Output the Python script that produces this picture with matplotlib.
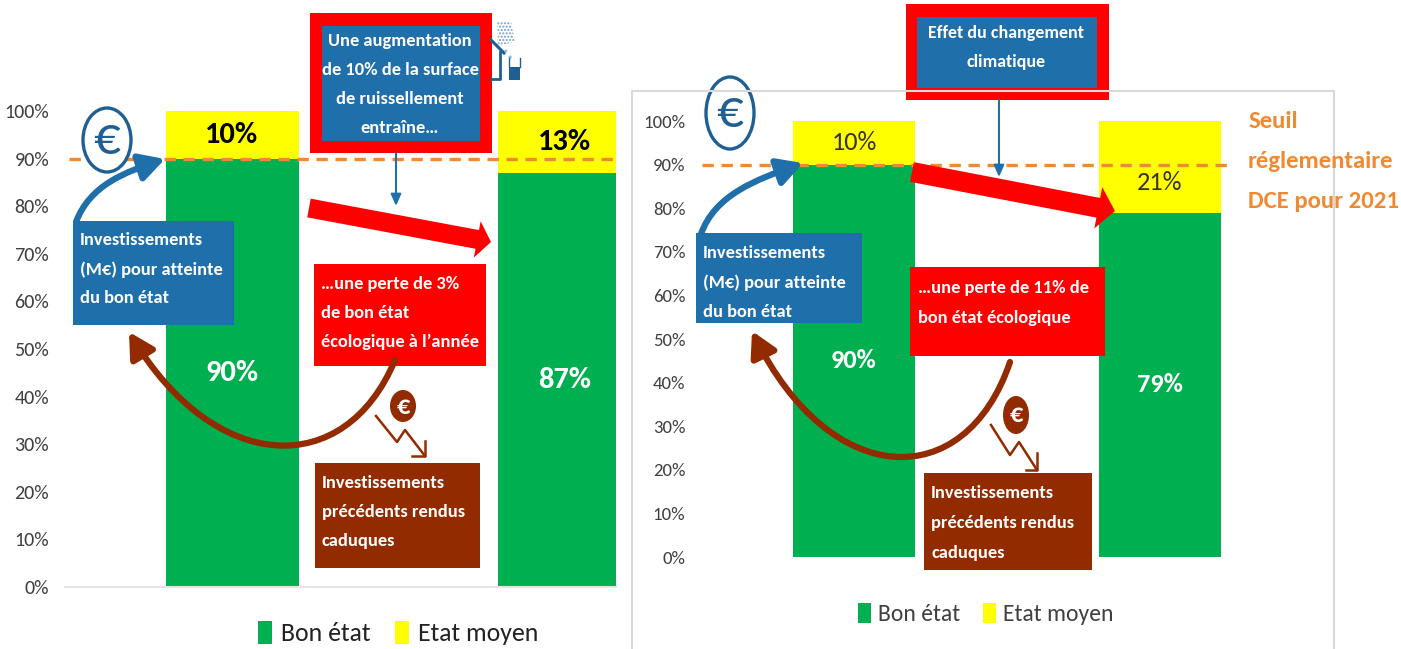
import matplotlib
matplotlib.use('Agg')
import matplotlib.pyplot as plt
from matplotlib.patches import Rectangle, Ellipse, FancyArrow, FancyArrowPatch, Polygon
from matplotlib.path import Path

plt.rcParams['font.family'] = ['Carlito', 'Liberation Sans', 'DejaVu Sans']

# --- data ---
y_ticks = [0, 10, 20, 30, 40, 50, 60, 70, 80, 90, 100]
threshold = 90
left_bon = [90, 87]
left_moyen = [10, 13]
right_bon = [90, 79]
right_moyen = [10, 21]

W, H = 1401, 649
GREEN = '#00b050'
YELLOW = '#ffff00'
ORANGE = '#f08a32'
BLUE = '#1f6fab'
DARKBLUE = '#1f5f94'
RED = '#ff0000'
BROWN = '#922b00'
GREY = '#404040'

fig = plt.figure(figsize=(W / 100, H / 100), dpi=100)


def make_axes(x0, x1, y_top, y_bot, c0, c1, bar_w):
    # axes placed in pixels, x limits worked out from the two bar centres
    ax = fig.add_axes([x0 / W, 1 - y_bot / H, (x1 - x0) / W, (y_bot - y_top) / H])
    unit = c1 - c0
    ax.set_xlim((x0 - c0) / unit, (x1 - c0) / unit)
    ax.set_ylim(0, 100)
    ax.patch.set_alpha(0)
    for s in ax.spines.values():
        s.set_visible(False)
    ax.set_xticks([])
    ax.set_yticks(y_ticks)
    ax.set_yticklabels([f'{v}%' for v in y_ticks])
    return ax, bar_w / unit


def draw_bars(ax, bar_w, bon, moyen, tcol, bold, fs, lab_shift=(0, 0), line_start=0.0):
    xs = range(len(bon))
    ax.bar(xs, bon, width=bar_w, color=GREEN, label='Bon état')
    ax.bar(xs, moyen, bottom=bon, width=bar_w, color=YELLOW, label='Etat moyen')
    for i in xs:
        ax.text(i, bon[i] / 2, f'{bon[i]}%', color='white', ha='center', va='center',
                fontsize=fs, fontweight='bold')
        ax.text(i, bon[i] + moyen[i] / 2 + lab_shift[i], f'{moyen[i]}%', color=tcol, ha='center',
                va='center', fontsize=fs, fontweight='bold' if bold else 'normal')
    ax.axhline(threshold, xmin=line_start, color=ORANGE, ls=(0, (3.4, 2.3)), lw=2.4, zorder=5)


# left chart
axL, wL = make_axes(65, 616, 111, 587, 232, 565, 133)
draw_bars(axL, wL, left_bon, left_moyen, 'black', True, 22, line_start=0.008)
axL.tick_params(axis='y', length=0, pad=11.5, labelsize=14.5, labelcolor=GREY)
axL.spines['bottom'].set_visible(True)
axL.spines['bottom'].set_color('#e4e4e4')
axL.spines['bottom'].set_linewidth(1.5)

# right chart
axR, wR = make_axes(702, 1230, 121, 557, 854, 1160, 122)
draw_bars(axR, wR, right_bon, right_moyen, '#333333', False, 19, lab_shift=(0, -3.7))
axR.tick_params(axis='y', length=0, pad=12, labelsize=13.5, labelcolor=GREY)

# overlay in pixel coordinates for the slide shapes
ov = fig.add_axes([0, 0, 1, 1], zorder=10)
ov.set_xlim(0, W)
ov.set_ylim(H, 0)
ov.axis('off')

axL.legend(bbox_to_anchor=(398, 633), bbox_transform=ov.transData, loc='center', ncol=2,
           frameon=False, fontsize=18.5, handlelength=0.55, handleheight=1.0, handletextpad=0.35,
           columnspacing=0.95, labelcolor='#222222')
axR.legend(bbox_to_anchor=(986, 614), bbox_transform=ov.transData, loc='center', ncol=2,
           frameon=False, fontsize=17, handlelength=0.55, handleheight=0.9, handletextpad=0.3,
           columnspacing=0.95, labelcolor=GREY)

# frame around the right chart
ov.plot([632, 632, 1334, 1334], [649, 91, 91, 649], color='#d9d9d9', lw=1.5)


def box(x0, x1, y0, y1, color):
    ov.add_patch(Rectangle((x0, y0), x1 - x0, y1 - y0, facecolor=color, edgecolor='none'))


def box_text(x, ys, lines, ha='left', fs=13.2):
    for y, line in zip(ys, lines):
        ov.text(x, y, line, color='white', fontsize=fs, fontweight='bold', ha=ha, va='center')


def curve_arrow(p0, p1, p2, p3, color, lw, head):
    path = Path([p0, p1, p2, p3], [Path.MOVETO, Path.CURVE4, Path.CURVE4, Path.CURVE4])
    ov.add_patch(FancyArrowPatch(path=path, arrowstyle=f'-|>,head_length={head},head_width={head * 0.55}',
                                 color=color, lw=lw, mutation_scale=1, shrinkA=0, shrinkB=0))


def euro_circle(cx, cy, rx, ry, fs):
    ov.add_patch(Ellipse((cx, cy), rx * 2, ry * 2, facecolor='white', edgecolor=DARKBLUE, lw=2.4))
    ov.text(cx, cy, '€', color=DARKBLUE, fontsize=fs, ha='center', va='center')


def euro_down(cx, cy, rx, ry, pts, heads):
    ov.add_patch(Ellipse((cx, cy), rx * 2, ry * 2, facecolor=BROWN, edgecolor='none'))
    ov.text(cx, cy, '€', color='white', fontsize=19, fontweight='bold', ha='center', va='center')
    ov.plot([p[0] for p in pts], [p[1] for p in pts], color=BROWN, lw=1.8)
    ov.plot([h[0] for h in heads], [h[1] for h in heads], color=BROWN, lw=1.8)


def thick_arrow(x0, y0, x1, y1, width, head_w, head_l):
    ov.add_patch(FancyArrow(x0, y0, x1 - x0, y1 - y0, width=width, head_width=head_w, head_length=head_l,
                            length_includes_head=True, color=RED, lw=0))


def thin_arrow(x, y0, y1):
    ov.annotate('', xy=(x, y1), xytext=(x, y0),
                arrowprops=dict(arrowstyle='-|>,head_length=0.5,head_width=0.22', color=BLUE, lw=1.5,
                                shrinkA=0, shrinkB=0, mutation_scale=14))


# --- left panel shapes ---
ov.add_patch(Polygon([(497, 21), (511, 21), (515, 42), (498, 46)], fill=False, hatch='.....',
                     edgecolor='#6f9fc8', lw=0))
ov.plot([491, 500, 504], [40, 49, 53], color=DARKBLUE, lw=2.2)
ov.plot([500, 500, 491], [52, 79, 79], color=DARKBLUE, lw=2)
ov.plot([505, 513], [50, 61], color='#8fbbdc', lw=2, ls=':')
box(509, 520, 67, 80, DARKBLUE)
ov.plot([509, 509], [58, 67], color=DARKBLUE, lw=1)
ov.plot([520, 520], [58, 67], color=DARKBLUE, lw=1)

box(310, 492, 13, 153, RED)
box(322, 480, 26, 141, BLUE)
box_text(400, [41, 70, 99, 128], ['Une augmentation', 'de 10% de la surface', 'de ruissellement', 'entraîne…'],
         ha='center')
thin_arrow(396, 153, 206)

euro_circle(107, 140, 24, 32, 38)
curve_arrow((76, 222), (90, 185), (125, 172), (165, 159), BLUE, 4.5, 15)
box(73, 234, 221, 325, BLUE)
box_text(80, [240, 270, 298], ['Investissements', '(M€) pour atteinte', 'du bon état'])

thick_arrow(309, 208, 491, 242, 19, 37, 14)
box(314, 486, 264, 366, RED)
box_text(321, [284, 313, 342], ['…une perte de 3%', 'de bon état', 'écologique à l’année'])

curve_arrow((395, 360), (345, 480), (215, 475), (129, 332), BROWN, 4.5, 15)
euro_down(403, 406, 13, 16, [(376, 416), (397, 442), (405, 430), (425, 456)],
          [(412, 456), (425, 456), (425, 441)])
box(315, 480, 463, 568, BROWN)
box_text(322, [483, 512, 541], ['Investissements', 'précédents rendus', 'caduques'])

# --- right panel shapes ---
box(906, 1109, 4, 100, RED)
box(917, 1097, 17, 88, BLUE)
box_text(1006, [33, 62], ['Effet du changement', 'climatique'], ha='center', fs=13)
thin_arrow(999, 100, 177)

euro_circle(730, 113, 24, 36, 38)
curve_arrow((701, 234), (715, 195), (755, 180), (803, 163), BLUE, 4.5, 15)
box(696, 862, 233, 323, BLUE)
box_text(703, [253, 283, 312], ['Investissements', '(M€) pour atteinte', 'du bon état'])

thick_arrow(912, 172, 1115, 211, 20, 42, 17)
box(910, 1105, 267, 356, RED)
box_text(918, [288, 318], ['…une perte de 11% de', 'bon état écologique'])

curve_arrow((1010, 362), (965, 495), (830, 490), (752, 331), BROWN, 4.5, 15)
euro_down(1016, 415, 13, 19, [(991, 425), (1010, 455), (1019, 442), (1037, 470)],
          [(1026, 470), (1037, 470), (1037, 453)])
box(924, 1092, 473, 570, BROWN)
box_text(931, [493, 523, 553], ['Investissements', 'précédents rendus', 'caduques'])

for y, line in zip([121, 161, 201], ['Seuil', 'réglementaire', 'DCE pour 2021']):
    ov.text(1248, y, line, color=ORANGE, fontsize=17.8, fontweight='bold', ha='left', va='center')

fig.savefig('out.png', dpi=100, facecolor='white')
